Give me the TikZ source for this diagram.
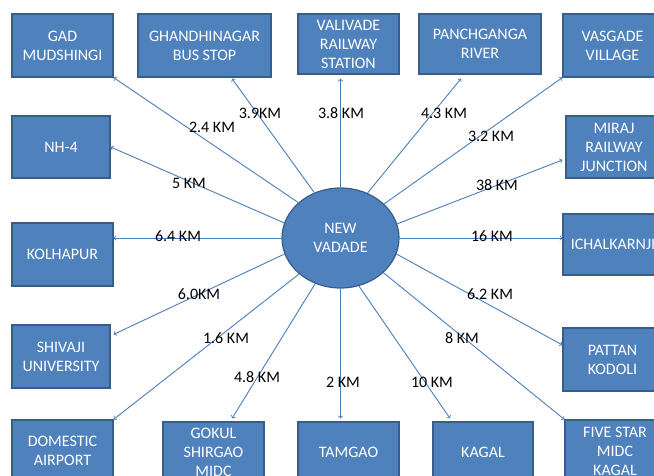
\documentclass[tikz,border=0pt]{standalone}
\usepackage{fontspec}
\setmainfont{Carlito}
\usetikzlibrary{calc,shapes.geometric}

\definecolor{boxblue}{HTML}{4F81BD}
\definecolor{boxedge}{HTML}{385D8A}
\definecolor{linkblue}{HTML}{4A7EBB}

\tikzset{
  place/.style={draw=boxedge, fill=boxblue, line width=1.2pt, text=white,
    align=center, inner sep=0pt, font=\fontsize{16}{19}\selectfont},
  hubnode/.style={ellipse, draw=boxedge, fill=boxblue, line width=1.2pt, text=white,
    align=center, inner sep=0pt, minimum width=117pt, minimum height=100pt,
    font=\fontsize{16}{19}\selectfont},
  link/.style={draw=linkblue, line width=0.9pt, ->},
  dist/.style={text=black, inner sep=0pt, font=\fontsize{16}{19}\selectfont}
}

\begin{document}
\begin{tikzpicture}[x=1pt,y=-1pt]
\clip (0,0) rectangle (654,476);
\fill[white] (0,0) rectangle (654,476);

% centre
\node[hubnode] (hub) at (340.5,238) {NEW\\VADADE};

% top row
\node[place, minimum width=101pt, minimum height=63pt] (gad) at (62.5,45.5) {GAD\\MUDSHINGI};
\node[place, minimum width=133pt, minimum height=63pt] (ghandi) at (204.5,45.5) {GHANDHINAGAR\\BUS STOP};
\node[place, minimum width=101pt, minimum height=60pt] (valivade) at (348.5,44) {VALIVADE\\RAILWAY\\STATION};
\node[place, minimum width=122pt, minimum height=60pt] (panch) at (480,44) {PANCHGANGA\\RIVER};
\node[place, minimum width=99pt, minimum height=63pt] (vasgade) at (612.5,45.5) {VASGADE\\VILLAGE};

% left column
\node[place, minimum width=98pt, minimum height=62pt] (nh) at (61,147) {NH-4};
\node[place, minimum width=101pt, minimum height=63pt] (kolhapur) at (62.5,254.5) {KOLHAPUR};
\node[place, minimum width=98pt, minimum height=63pt] (shivaji) at (61,356.5) {SHIVAJI\\UNIVERSITY};

% right column
\node[place, minimum width=96pt, minimum height=62pt] (miraj) at (614,147) {MIRAJ\\RAILWAY\\JUNCTION};
\node[place, minimum width=100pt, minimum height=61pt] (ichal) at (613,244.5) {ICHALKARNJI};
\node[place, minimum width=99pt, minimum height=63pt] (pattan) at (612.5,359.5) {PATTAN\\KODOLI};

% bottom row
\node[place, minimum width=101pt, minimum height=62pt] (domestic) at (62.5,451) {DOMESTIC\\AIRPORT};
\node[place, minimum width=101pt, minimum height=60pt] (gokul) at (213.5,452) {GOKUL\\SHIRGAO\\MIDC};
\node[place, minimum width=101pt, minimum height=60pt] (tamgao) at (348.5,452) {TAMGAO};
\node[place, minimum width=100pt, minimum height=60pt] (kagal) at (483,452) {KAGAL};
\node[place, minimum width=100pt, minimum height=62pt] (five) at (615,451) {FIVE STAR\\MIDC\\KAGAL};

% connectors
\draw[link] (hub.140.5) -- (gad.south east);
\draw[link] (hub.120.3) -- ($(ghandi.south)+(27.5,1)$);
\draw[link] (hub.90) -- ($(hub |- valivade.south)+(0,4)$);
\draw[link] (hub.59.3) -- ($(panch.south)+(-19,4)$);
\draw[link] (hub.38.8) -- (vasgade.south west);
\draw[link] (hub.14.4) -- ($(miraj.west)+(-3,13)$);
\draw[link] (hub.0) -- (ichal.west |- hub);
\draw[link] (hub.-16) -- ($(pattan.west)+(0,-14.5)$);
\draw[link] (hub.-39.6) -- (five.north west);
\draw[link] (hub.-69.3) -- ($(kagal.north)+(-33,-3)$);
\draw[link] (hub.-90) -- ($(hub |- tamgao.north)+(0,-3)$);
\draw[link] (hub.-119.8) -- ($(gokul.north)+(18.5,-3)$);
\draw[link] (hub.-139.7) -- (domestic.north east);
\draw[link] (hub.-164) -- ($(shivaji.north east)+(3,10)$);
\draw[link] (hub.180) -- (kolhapur.east |- hub);
\draw[link] (hub.165.6) -- (nh.east);

% distances
\node[dist] (d1) at (212,127) {2.4 KM};
\node[dist] (d2) at (260,113) {3.9KM};
\node[dist] (d3) at (341,113) {3.8 KM};
\node[dist] (d4) at (444,113) {4.3 KM};
\node[dist] (d5) at (491,136) {3.2 KM};
\node[dist] (d6) at (497,185) {38 KM};
\node[dist] (d7) at (492,236) {16 KM};
\node[dist] (d8) at (189,183) {5 KM};
\node[dist] (d9) at (178,236) {6.4 KM};
\node[dist] (d10) at (199,294) {6.0KM};
\node[dist] (d11) at (226,338) {1.6 KM};
\node[dist] (d12) at (257,377) {4.8 KM};
\node[dist] (d13) at (343,382) {2 KM};
\node[dist] (d14) at (432,382) {10 KM};
\node[dist] (d15) at (462,338) {8 KM};
\node[dist] (d16) at (490,294) {6.2 KM};
\end{tikzpicture}
\end{document}
